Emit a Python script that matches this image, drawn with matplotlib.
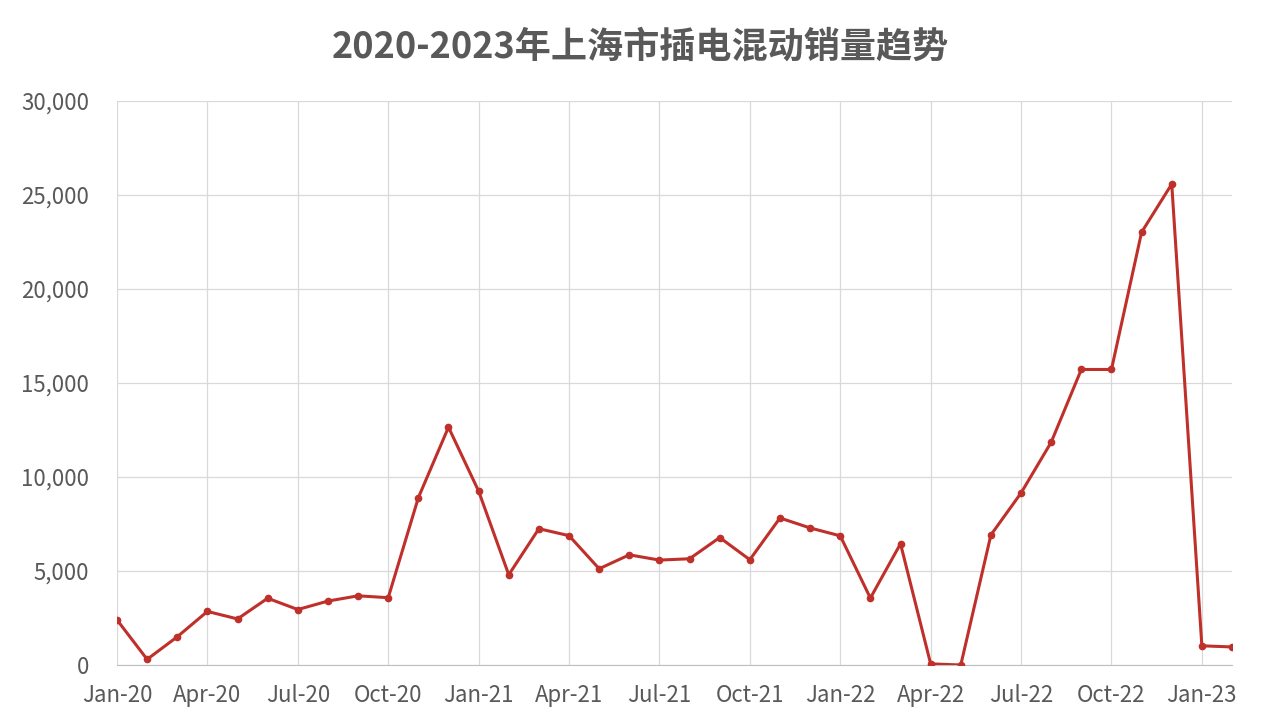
import matplotlib.pyplot as plt
from matplotlib.ticker import FuncFormatter

plt.rcParams['font.family'] = ['Noto Sans CJK SC', 'DejaVu Sans']

# monthly sales Jan-20 .. Feb-23
months = ['Jan-20', 'Feb-20', 'Mar-20', 'Apr-20', 'May-20', 'Jun-20', 'Jul-20', 'Aug-20',
          'Sep-20', 'Oct-20', 'Nov-20', 'Dec-20', 'Jan-21', 'Feb-21', 'Mar-21', 'Apr-21',
          'May-21', 'Jun-21', 'Jul-21', 'Aug-21', 'Sep-21', 'Oct-21', 'Nov-21', 'Dec-21',
          'Jan-22', 'Feb-22', 'Mar-22', 'Apr-22', 'May-22', 'Jun-22', 'Jul-22', 'Aug-22',
          'Sep-22', 'Oct-22', 'Nov-22', 'Dec-22', 'Jan-23', 'Feb-23']
sales = [2400, 300, 1500, 2850, 2450, 3550, 2950, 3400,
         3680, 3580, 8900, 12650, 9250, 4800, 7250, 6880,
         5120, 5860, 5580, 5650, 6780, 5600, 7820, 7290,
         6870, 3560, 6450, 60, 0, 6920, 9150, 11850,
         15720, 15720, 23020, 25580, 1020, 960]
tick_labels = months[::3]

fig = plt.figure(figsize=(12.8, 7.2), dpi=100)
ax = fig.add_axes([0.0914, 0.0764, 0.8711, 0.7833])

x = list(range(len(months)))
ax.plot(x, sales, color='#C0302A', lw=2.2, marker='o', ms=4.5, zorder=3)

ax.set_xlim(0, len(months) - 1)
ax.set_ylim(0, 30000)
ax.set_yticks(range(0, 30001, 5000))
ax.yaxis.set_major_formatter(FuncFormatter(lambda v, p: f'{int(v):,}'))
ax.set_xticks(x[::3])
ax.set_xticklabels(tick_labels)

ax.grid(True, color='#D9D9D9', lw=0.9)
ax.set_axisbelow(True)
for s in ['top', 'right', 'left']:
    ax.spines[s].set_visible(False)
ax.spines['bottom'].set_color('#BFBFBF')
ax.tick_params(length=0, labelsize=16, colors='#595959')
ax.tick_params(axis='x', pad=14)
ax.tick_params(axis='y', pad=20)

fig.suptitle('2020-2023年上海市插电混动销量趋势', fontsize=26, fontweight='bold',
             color='#595959', y=0.96)

fig.savefig('out.png', dpi=100, facecolor='white')
